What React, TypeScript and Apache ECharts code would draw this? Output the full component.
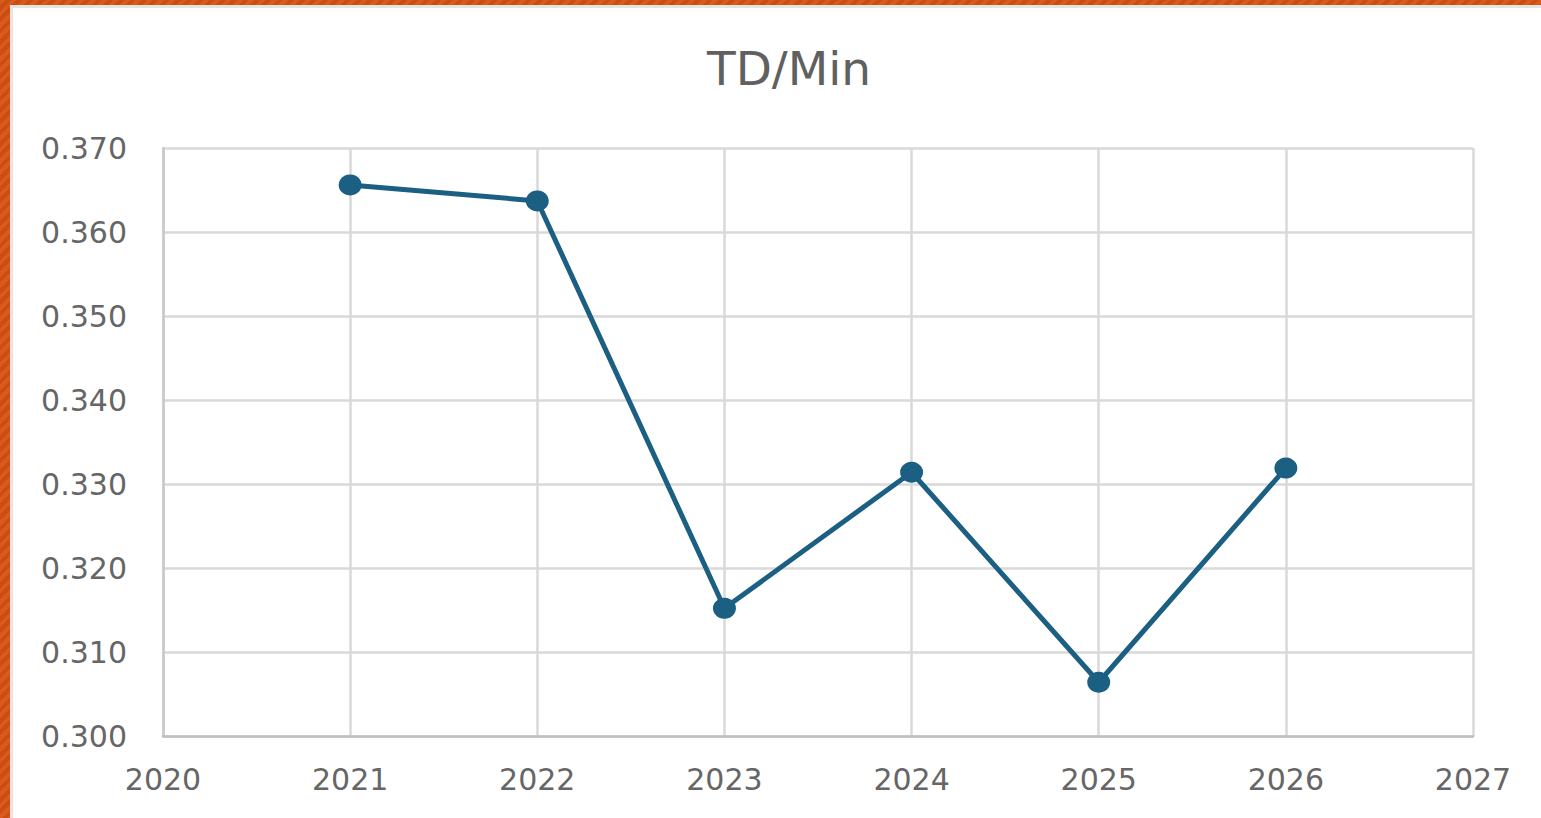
import React, { useEffect, useRef } from "react";
import * as echarts from "echarts";

const years = [2021, 2022, 2023, 2024, 2025, 2026];
const tdPerMin = [0.3656, 0.3637, 0.3152, 0.3314, 0.3064, 0.3319];
const chartTitle = "TD/Min";

export default function App() {
  const ref = useRef<HTMLDivElement>(null);

  useEffect(() => {
    document.body.style.margin = "0";
    if (!ref.current) return;
    const chart = echarts.init(ref.current, null, { renderer: "svg" });
    const font = "DejaVu Sans";
    chart.setOption({
      animation: false,
      backgroundColor: "#ffffff",
      title: {
        text: chartTitle,
        left: 771,
        top: 32,
        textAlign: "center",
        textStyle: { fontFamily: font, fontSize: 47, fontWeight: "normal", color: "#606060" },
      },
      grid: { left: 150, top: 140, right: 68, bottom: 82, containLabel: false },
      xAxis: {
        type: "value",
        min: 2020,
        max: 2027,
        interval: 1,
        axisLine: { show: true, lineStyle: { color: "#bfbfbf", width: 2.5 } },
        axisTick: { show: false },
        axisLabel: { fontFamily: font, fontSize: 30, color: "#666666", margin: 28, formatter: (v: number) => String(v) },
        splitLine: { show: true, lineStyle: { color: "#d9d9d9", width: 2.5 } },
      },
      yAxis: {
        type: "value",
        min: 0.3,
        max: 0.37,
        interval: 0.01,
        axisLine: { show: true, lineStyle: { color: "#c8c8c8", width: 2.5 } },
        axisTick: { show: false },
        axisLabel: { fontFamily: font, fontSize: 30, color: "#666666", margin: 36, formatter: (v: number) => v.toFixed(3) },
        splitLine: { show: true, lineStyle: { color: "#d9d9d9", width: 2.5 } },
      },
      series: [
        {
          type: "line",
          data: years.map((y, i) => [y, tdPerMin[i]]),
          symbol: "circle",
          symbolSize: [23, 21],
          lineStyle: { color: "#1b5f82", width: 5 },
          itemStyle: { color: "#1b5f82" },
        },
      ],
    });
    return () => chart.dispose();
  }, []);

  return (
    <div
      style={{
        position: "fixed",
        left: 0,
        top: 0,
        width: 1541,
        height: 818,
        background: "repeating-linear-gradient(135deg, #d85a1c 0px, #d85a1c 4px, #cc4d14 4px, #cc4d14 8px)",
        overflow: "hidden",
      }}
    >
      <div
        style={{
          position: "absolute",
          left: 10,
          top: 5,
          width: 1531,
          height: 813,
          background: "#e4e4e4",
        }}
      />
      <div
        ref={ref}
        style={{ position: "absolute", left: 13, top: 8, width: 1528, height: 810 }}
      />
    </div>
  );
}
